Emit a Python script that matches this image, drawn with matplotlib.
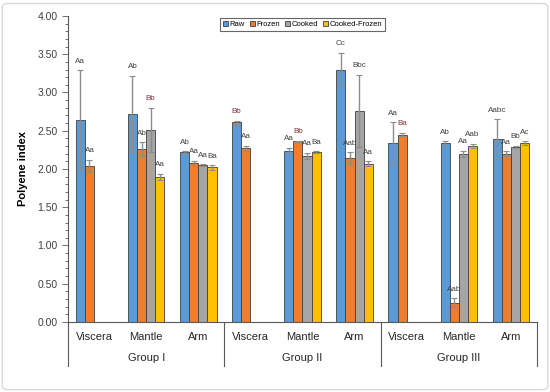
import matplotlib.pyplot as plt
import numpy as np
from matplotlib.patches import FancyBboxPatch

plt.rcParams['font.family'] = ['Liberation Sans', 'DejaVu Sans']

groups = ['Group I', 'Group II', 'Group III']
tissues = ['Viscera', 'Mantle', 'Arm']
series = ['Raw', 'Frozen', 'Cooked', 'Cooked-Frozen']
colors = ['#5b9bd5', '#ed7d31', '#a5a5a5', '#ffc000']

# values per category (9 categories: group x tissue); None = no bar
raw = [2.64, 2.72, 2.22, 2.61, 2.24, 3.30, 2.34, 2.34, 2.39]
frozen = [2.04, 2.26, 2.08, 2.27, 2.36, 2.14, 2.45, 0.25, 2.20]
cooked = [None, 2.51, 2.05, None, 2.17, 2.76, None, 2.20, 2.29]
cooked_frozen = [None, 1.90, 2.02, None, 2.22, 2.07, None, 2.30, 2.34]

raw_err = [0.65, 0.50, 0.01, 0.02, 0.04, 0.22, 0.27, 0.02, 0.26]
frozen_err = [0.08, 0.09, 0.03, 0.03, 0.01, 0.08, 0.02, 0.06, 0.03]
cooked_err = [None, 0.29, 0.01, None, 0.04, 0.47, None, 0.04, 0.01]
cf_err = [None, 0.04, 0.03, None, 0.01, 0.03, None, 0.03, 0.02]

raw_lbl = ['Aa', 'Ab', 'Ab', 'Bb', 'Aa', 'Cc', 'Aa', 'Ab', 'Aabc']
frozen_lbl = ['Aa', 'Ab', 'Aa', 'Aa', 'Bb', 'Aab', 'Ba', 'Aab', 'Aa']
cooked_lbl = [None, 'Bb', 'Aa', None, 'Aa', 'Bbc', None, 'Aa', 'Bb']
cf_lbl = [None, 'Aa', 'Ba', None, 'Ba', 'Aa', None, 'Aab', 'Ac']

values = [raw, frozen, cooked, cooked_frozen]
errors = [raw_err, frozen_err, cooked_err, cf_err]
labels = [raw_lbl, frozen_lbl, cooked_lbl, cf_lbl]
red_labels = {(2, 1), (0, 3), (1, 4), (1, 6)}

fig = plt.figure(figsize=(5.5, 3.92), dpi=100)
fig.patches.append(FancyBboxPatch((0.004, 0.006), 0.992, 0.985, boxstyle='round,pad=0,rounding_size=0.01',
                                  transform=fig.transFigure, fill=False, edgecolor='#d9d9d9', lw=1))
ax = fig.add_axes([0.1236, 0.1786, 0.8528, 0.7806])

x = np.arange(9)
w = 0.175
for s in range(4):
    for i in range(9):
        v = values[s][i]
        if v is None:
            continue
        xi = x[i] + (s - 1.5) * w
        ax.bar(xi, v, w, color=colors[s], edgecolor='#404040', lw=0.6,
               label=series[s] if i == 1 else None, zorder=2)
        e = errors[s][i]
        ax.errorbar(xi, v, yerr=e, fmt='none', ecolor='#8c8c8c', elinewidth=1,
                    capsize=2, capthick=0.8, zorder=3)
        col = '#7b3535' if (s, i) in red_labels else '#404040'
        ax.annotate(labels[s][i], (xi, v + e), xytext=(0, 4), textcoords='offset points',
                    ha='center', va='bottom', fontsize=5.8, color=col)

ax.set_xlim(-0.5, 8.5)
ax.set_ylim(0, 4)
ax.set_yticks(np.arange(0, 4.01, 0.5))
ax.set_yticks(np.arange(0, 4.01, 0.1), minor=True)
ax.set_yticklabels(['%.2f' % t for t in np.arange(0, 4.01, 0.5)], fontsize=7.5, color='#404040')
ax.tick_params(axis='y', which='major', length=4, width=0.6, color='#595959')
ax.tick_params(axis='y', which='minor', length=2, width=0.6, color='#595959')
ax.set_xticks([])
ax.set_ylabel('Polyene index', fontsize=8, fontweight='bold', labelpad=7)
for sp in ['top', 'right']:
    ax.spines[sp].set_visible(False)
for sp in ['left', 'bottom']:
    ax.spines[sp].set_color('#595959')
    ax.spines[sp].set_linewidth(0.8)

# two-level category axis
for i in range(9):
    ax.text(x[i], -0.19, tissues[i % 3], ha='center', va='center', fontsize=8, color='#262626',
            clip_on=False)
for g in range(3):
    ax.text(3 * g + 1, -0.47, groups[g], ha='center', va='center', fontsize=8, color='#262626',
            clip_on=False)
for b in [-0.5, 2.5, 5.5, 8.5]:
    ax.plot([b, b], [0, -0.57], color='#595959', lw=0.8, clip_on=False)

leg = ax.legend(loc='upper center', bbox_to_anchor=(0.5, 1.005), ncol=4, fontsize=5.5,
                frameon=True, fancybox=False, edgecolor='#404040', handlelength=0.7,
                handleheight=0.7, handletextpad=0.2, columnspacing=0.6, borderpad=0.35)
leg.get_frame().set_linewidth(0.8)

fig.savefig('out.png', dpi=100)
